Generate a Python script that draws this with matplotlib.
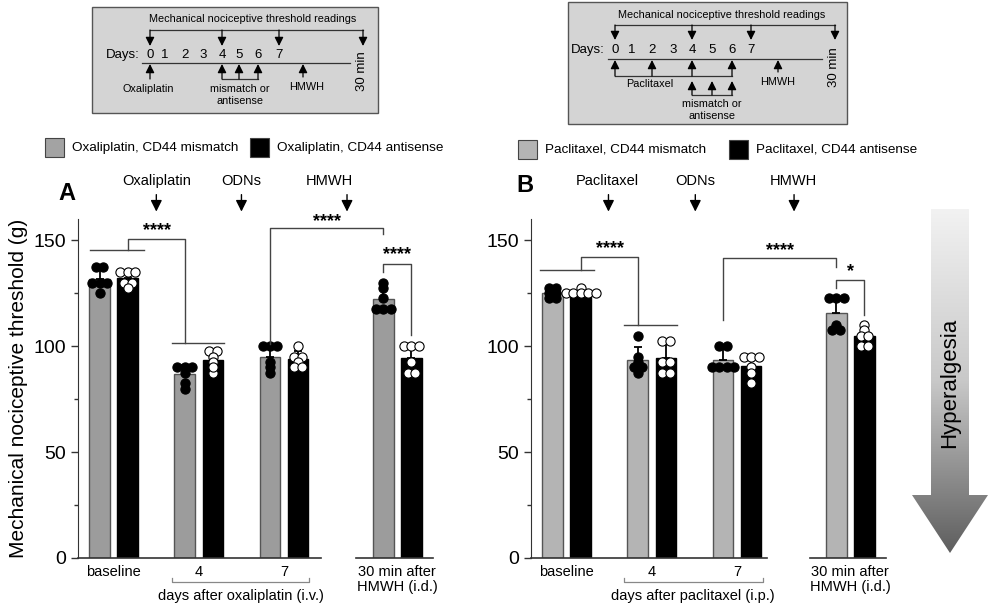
import numpy as np
import matplotlib
matplotlib.use("Agg")
import matplotlib.pyplot as plt
from matplotlib.patches import Polygon, Rectangle
from matplotlib.colors import LinearSegmentedColormap
import matplotlib.transforms as mtrans

plt.rcParams['font.family'] = ['Liberation Sans', 'DejaVu Sans']

groups = ['baseline', '4', '7', '30 min after\nHMWH (i.d.)']

# panel A: oxaliplatin, thresholds (g) per rat
oxa_mismatch = [
    [137.5, 137.5, 130, 130, 130, 125],
    [90, 90, 90, 87.5, 82.5, 80],
    [100, 100, 100, 92.5, 87.5, 90],
    [130, 127.5, 122.5, 117.5, 117.5, 117.5],
]
oxa_antisense = [
    [135, 135, 135, 130, 130, 127.5],
    [97.5, 97.5, 95, 92.5, 87.5, 90],
    [100, 95, 95, 92.5, 90, 90],
    [100, 100, 100, 92.5, 87.5, 87.5],
]
# panel B: paclitaxel
pac_mismatch = [
    [127.5, 127.5, 125, 125, 122.5, 122.5],
    [105, 95, 92.5, 90, 87.5, 90],
    [100, 100, 90, 90, 90, 90],
    [122.5, 122.5, 122.5, 110, 107.5, 107.5],
]
pac_antisense = [
    [127.5, 125, 125, 125, 125, 125],
    [102.5, 102.5, 92.5, 92.5, 87.5, 87.5],
    [95, 95, 95, 90, 87.5, 82.5],
    [110, 107.5, 105, 105, 100, 100],
]

W, H = 991, 604
fig = plt.figure(figsize=(W / 100, H / 100), dpi=100)

# layout
xpos = np.array([0, 1, 2, 3.33])
off = 0.165
bw = 0.245
PX, PY = 85.5, 2.12   # px per unit


def swarm_x(vals, xc, d=7.5):
    vals = np.asarray(vals, float)
    placed = []
    xs = np.empty(len(vals))
    for v in sorted(set(vals), reverse=True):
        idx = np.where(vals == v)[0]
        n = len(idx)
        y = v * PY
        base = (np.arange(n) - (n - 1) / 2) * d
        best = None
        for shift in [0, d / 2, -d / 2]:
            offs = base + shift
            clash = sum(1 for (px, py) in placed for o in offs
                        if np.hypot(px - o, py - y) < d * 0.7)
            if best is None or clash < best[0]:
                best = (clash, offs)
            if clash == 0:
                break
        for i, o in zip(idx, best[1]):
            xs[i] = xc + o / PX
            placed.append((o, y))
    return xs


def panel(ax, mism, anti, gray, xbreak):
    for vals_set, sign, fc, ec, dotfc in [(mism, -1, gray, '#555555', 'black'),
                                           (anti, 1, 'black', 'black', 'white')]:
        means = np.array([np.mean(v) for v in vals_set])
        sds = np.array([np.std(v, ddof=1) for v in vals_set])
        xb = xpos + sign * off
        ax.bar(xb, means, width=bw, color=fc, edgecolor=ec, lw=1, zorder=2)
        ax.errorbar(xb, means, yerr=[np.zeros_like(sds), sds], fmt='none',
                    ecolor='black', elinewidth=1.3, capsize=3, capthick=1.3, zorder=3)
        for x0, v in zip(xb, vals_set):
            ax.scatter(swarm_x(v, x0), v, s=44, c=dotfc, edgecolors='black',
                       linewidths=0.8, zorder=4, clip_on=False)
    ax.set_xlim(-0.42, 3.75)
    ax.set_ylim(0, 160)
    ax.set_yticks([0, 50, 100, 150])
    ax.set_yticks([25, 75, 125], minor=True)
    ax.tick_params(axis='y', which='major', length=5, width=1, labelsize=14, color='#333333')
    ax.tick_params(axis='y', which='minor', length=3, width=1, color='#333333')
    ax.set_xticks(xpos)
    ax.set_xticklabels(groups, fontsize=10.5, linespacing=1.1)
    ax.tick_params(axis='x', length=0, pad=5)
    for s in ['top', 'right', 'bottom']:
        ax.spines[s].set_visible(False)
    ax.spines['left'].set_color('#333333')
    tr = mtrans.blended_transform_factory(ax.transData, ax.transAxes)
    ax.plot([-0.42, xbreak[0]], [0, 0], color='#333333', lw=1.2, transform=tr, clip_on=False)
    ax.plot([xbreak[1], 3.75], [0, 0], color='#333333', lw=1.2, transform=tr, clip_on=False)
    return tr


def bracket(ax, pts, lw=1):
    xs, ys = zip(*pts)
    ax.plot(xs, ys, color='#444444', lw=lw, clip_on=False, zorder=5)


def stars(ax, x, y, s):
    ax.text(x, y, s, ha='center', va='center', fontsize=13, fontweight='bold')


def drop_arrow(ax, x, y_top, y_tip):
    ax.annotate('', xy=(x, y_tip), xytext=(x, y_top), annotation_clip=False,
                arrowprops=dict(arrowstyle='-|>', color='black', lw=1,
                                mutation_scale=17, shrinkA=0, shrinkB=0))


axA = fig.add_axes([78 / W, 1 - 558 / H, 355 / W, 339 / H])
trA = panel(axA, oxa_mismatch, oxa_antisense, '#9c9c9c', (2.44, 2.84))
axA.set_ylabel('Mechanical nociceptive threshold (g)', fontsize=15, labelpad=4)

axB = fig.add_axes([531 / W, 1 - 558 / H, 355 / W, 339 / H])
trB = panel(axB, pac_mismatch, pac_antisense, '#b4b4b4', (2.35, 2.86))

# significance brackets, panel A
bracket(axA, [(-0.28, 145.6), (0.35, 145.6)])
bracket(axA, [(0.165, 145.6), (0.165, 150.6), (0.835, 150.6), (0.835, 101.6)])
bracket(axA, [(0.68, 101.6), (1.29, 101.6)])
stars(axA, 0.51, 154.5, '****')
bracket(axA, [(1.835, 101), (1.835, 155.7), (3.165, 155.7), (3.165, 153)])
stars(axA, 2.5, 159, '****')
bracket(axA, [(3.165, 135), (3.165, 138.7), (3.495, 138.7), (3.495, 105.2)])
stars(axA, 3.33, 143, '****')

# significance brackets, panel B
bracket(axB, [(-0.31, 135.8), (0.32, 135.8)])
bracket(axB, [(0.165, 135.8), (0.165, 142.1), (0.835, 142.1), (0.835, 110.2)])
bracket(axB, [(0.67, 110.2), (1.29, 110.2)])
stars(axB, 0.51, 146, '****')
bracket(axB, [(1.835, 112.3), (1.835, 141.7), (3.165, 141.7), (3.165, 137.5)])
stars(axB, 2.5, 145, '****')
bracket(axB, [(3.165, 127.4), (3.165, 131.4), (3.495, 131.4), (3.495, 114.6)])
stars(axB, 3.33, 135, '*')

# treatment arrows
for ax, items in [(axA, [('Oxaliplatin', 0.50, 0.50), ('ODNs', 1.50, 1.50), ('HMWH', 2.53, 2.74)]),
                  (axB, [('Paclitaxel', 0.48, 0.49), ('ODNs', 1.51, 1.51), ('HMWH', 2.66, 2.67)])]:
    for lab, xt, xa in items:
        ax.text(xt, 177.8, lab, ha='center', va='center', fontsize=10.5)
        drop_arrow(ax, xa, 171.5, 163.5)

# "days after" brackets
for ax, tr, x0, x1, xt, lab in [(axA, trA, 0.68, 2.29, 1.49, 'days after oxaliplatin (i.v.)'),
                                (axB, trB, 0.67, 2.31, 1.48, 'days after paclitaxel (i.p.)')]:
    ax.plot([x0, x0, x1, x1], [-0.059, -0.071, -0.071, -0.059], color='#888888', lw=0.9,
            transform=tr, clip_on=False)
    ax.text(xt, -0.112, lab, ha='center', va='center', fontsize=10.5, transform=tr)

fig.text(67 / W, 1 - 193 / H, 'A', ha='center', va='center', fontsize=17, fontweight='bold')
fig.text(525 / W, 1 - 186 / H, 'B', ha='center', va='center', fontsize=17, fontweight='bold')

# overlay in pixel coordinates for schematic, legends and big arrow
ov = fig.add_axes([0, 0, 1, 1], zorder=-1)
ov.set_xlim(0, W)
ov.set_ylim(H, 0)
ov.axis('off')
ov.patch.set_alpha(0)


def up_or_down(x, y_base, y_tip):
    ov.annotate('', xy=(x, y_tip), xytext=(x, y_base),
                arrowprops=dict(arrowstyle='-|>', color='black', lw=0.9,
                                mutation_scale=13, shrinkA=0, shrinkB=0))


def schematic(box, title, title_xy, top_y, read_xs, read_tip, days_y, days_label_x, day_xs,
              line_y, line_x, min_xy):
    ov.add_patch(Rectangle((box[0], box[1]), box[2] - box[0], box[3] - box[1],
                           facecolor='#d4d4d4', edgecolor='#555555', lw=1))
    ov.text(title_xy[0], title_xy[1], title, ha='center', va='center', fontsize=7.8)
    ov.plot([read_xs[0], read_xs[-1]], [top_y, top_y], color='#333333', lw=0.9)
    for x in read_xs:
        up_or_down(x, top_y, read_tip)
    ov.text(days_label_x, days_y, 'Days:', ha='center', va='center', fontsize=9.5)
    for d, x in enumerate(day_xs):
        ov.text(x, days_y, str(d), ha='center', va='center', fontsize=9.5)
    ov.plot(line_x, [line_y, line_y], color='#333333', lw=0.9)
    ov.text(min_xy[0], min_xy[1], '30 min', ha='center', va='center', fontsize=9.5, rotation=90)


# left schematic
schematic((92, 7, 378, 113), 'Mechanical nociceptive threshold readings', (253, 19), 30,
          [150, 222, 279, 363], 46, 55, 123, [150, 165, 185, 203, 222, 239, 258, 279],
          63, [142, 350], (362, 71))
up_or_down(150, 79, 64)
ov.text(148, 89, 'Oxaliplatin', ha='center', va='center', fontsize=7.8)
for x in [222, 239, 258]:
    up_or_down(x, 79, 64)
ov.plot([222, 258], [79, 79], color='#333333', lw=0.9)
ov.text(240, 89, 'mismatch or', ha='center', va='center', fontsize=7.8)
ov.text(240, 101, 'antisense', ha='center', va='center', fontsize=7.8)
up_or_down(303, 77, 64)
ov.text(307, 87, 'HMWH', ha='center', va='center', fontsize=7.8)

# right schematic
schematic((568, 2, 847, 124), 'Mechanical nociceptive threshold readings', (722, 15), 25,
          [615, 692, 751, 835], 40, 50, 588, [615, 632, 652, 673, 692, 712, 732, 751],
          59, [608, 822], (834, 67))
for x in [615, 652, 692, 732]:
    up_or_down(x, 76, 60)
ov.plot([615, 732], [76, 76], color='#333333', lw=0.9)
ov.text(650, 84, 'Paclitaxel', ha='center', va='center', fontsize=7.8)
for x in [692, 712, 732]:
    up_or_down(x, 95, 81)
ov.plot([692, 732], [95, 95], color='#333333', lw=0.9)
ov.text(712, 104, 'mismatch or', ha='center', va='center', fontsize=7.8)
ov.text(712, 116, 'antisense', ha='center', va='center', fontsize=7.8)
up_or_down(778, 72, 60)
ov.text(778, 82, 'HMWH', ha='center', va='center', fontsize=7.8)

# legends
for x, y, fc, lab in [(45, 138, '#a3a3a3', 'Oxaliplatin, CD44 mismatch'),
                      (250, 138, 'black', 'Oxaliplatin, CD44 antisense'),
                      (518, 140, '#b4b4b4', 'Paclitaxel, CD44 mismatch'),
                      (729, 140, 'black', 'Paclitaxel, CD44 antisense')]:
    ov.add_patch(Rectangle((x, y), 19, 19, facecolor=fc, edgecolor='#444444', lw=0.8))
    ov.text(x + 27, y + 9.5, lab, ha='left', va='center', fontsize=9.7)

# hyperalgesia arrow
cmap = LinearSegmentedColormap.from_list('g', ['#f2f2f2', '#c8c8c8', '#5e5e5e'])
grad = np.linspace(0, 1, 256).reshape(-1, 1)
im = ov.imshow(grad, cmap=cmap, extent=[912, 988, 553, 209], origin='upper',
               aspect='auto', zorder=1)
arrow = Polygon([(931, 209), (969, 209), (969, 495), (988, 495), (950, 553),
                 (912, 495), (931, 495)], closed=True, transform=ov.transData,
                facecolor='none', edgecolor='none')
ov.add_patch(arrow)
im.set_clip_path(arrow)
ov.set_xlim(0, W)
ov.set_ylim(H, 0)
ov.text(950, 383, 'Hyperalgesia', rotation=90, ha='center', va='center', fontsize=16, zorder=2)

fig.savefig('out.png', dpi=100)
